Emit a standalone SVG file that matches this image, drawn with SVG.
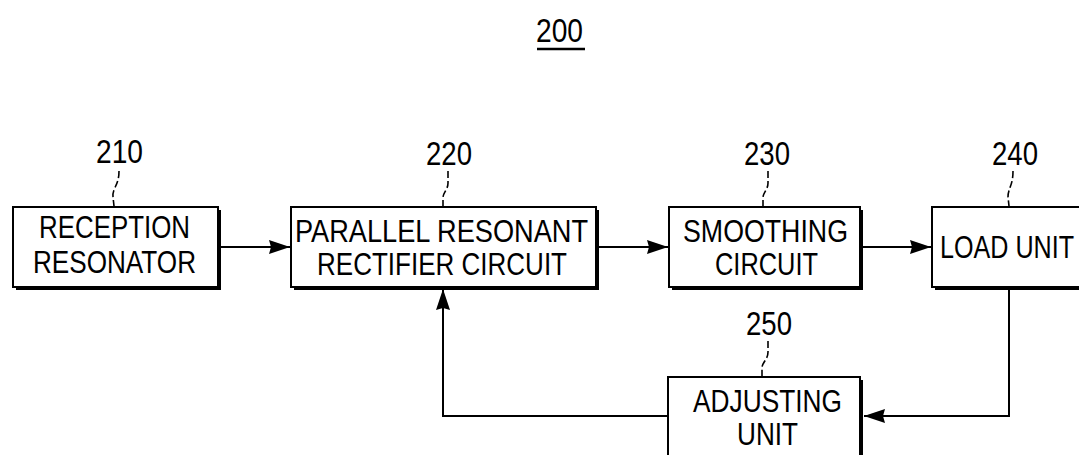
<svg xmlns="http://www.w3.org/2000/svg" width="1079" height="455" viewBox="0 0 1079 455">
<style>
  .box { fill: #fff; stroke: #000; stroke-width: 2; }
  .shadow { fill: #000; }
  .t { font-family: "Liberation Sans", Arial, sans-serif; font-size: 32px; fill: #000; }
  .num { font-family: "Liberation Sans", Arial, sans-serif; font-size: 34px; fill: #000; }
  .leader { fill: none; stroke: #000; stroke-width: 1.6; stroke-dasharray: 7 3; }
  .conn { fill: none; stroke: #000; stroke-width: 2; }
</style>
<defs>
  <marker id="arr" markerUnits="userSpaceOnUse" markerWidth="24" markerHeight="16" refX="21" refY="8" orient="auto">
    <path d="M0,1 L21,8 L0,15 L2,8 z" fill="#000"/>
  </marker>
</defs>
<rect width="1079" height="455" fill="#fff"/>

<g id="title">
  <text class="num" x="559.5" y="42" text-anchor="middle" textLength="47" lengthAdjust="spacingAndGlyphs">200</text>
  <line x1="537" y1="49" x2="585" y2="49" stroke="#000" stroke-width="2.5"/>
</g>

<g id="n210">
  <rect class="shadow" x="16" y="210" width="205" height="80"/>
  <rect class="box" x="13" y="207" width="205" height="80"/>
  <text class="t" x="114.5" y="238" text-anchor="middle" textLength="151" lengthAdjust="spacingAndGlyphs">RECEPTION</text>
  <text class="t" x="114.5" y="273" text-anchor="middle" textLength="163" lengthAdjust="spacingAndGlyphs">RESONATOR</text>
  <text class="num" x="119.5" y="163" text-anchor="middle" textLength="47" lengthAdjust="spacingAndGlyphs">210</text>
  <path class="leader" d="M119,171 C119,186 112,188 113,197 L114,206"/>
</g>

<g id="n220">
  <rect class="shadow" x="294" y="210" width="305" height="80"/>
  <rect class="box" x="291" y="207" width="305" height="80"/>
  <text class="t" x="441.5" y="242" text-anchor="middle" textLength="293" lengthAdjust="spacingAndGlyphs">PARALLEL RESONANT</text>
  <text class="t" x="442" y="275" text-anchor="middle" textLength="250" lengthAdjust="spacingAndGlyphs">RECTIFIER CIRCUIT</text>
  <text class="num" x="449" y="165" text-anchor="middle" textLength="46" lengthAdjust="spacingAndGlyphs">220</text>
  <path class="leader" d="M448,171 L448,183 C448,190 443,192 443,198 L443,206"/>
</g>

<g id="n230">
  <rect class="shadow" x="672" y="210" width="191" height="80"/>
  <rect class="box" x="669" y="207" width="191" height="80"/>
  <text class="t" x="765.5" y="242" text-anchor="middle" textLength="165" lengthAdjust="spacingAndGlyphs">SMOOTHING</text>
  <text class="t" x="766.5" y="275" text-anchor="middle" textLength="103" lengthAdjust="spacingAndGlyphs">CIRCUIT</text>
  <text class="num" x="767" y="165" text-anchor="middle" textLength="46" lengthAdjust="spacingAndGlyphs">230</text>
  <path class="leader" d="M768,171 L768,183 C768,190 763,192 763,198 L763,206"/>
</g>

<g id="n240">
  <rect class="shadow" x="935" y="210" width="170" height="80"/>
  <rect class="box" x="932" y="207" width="170" height="80"/>
  <text class="t" x="940" y="258" textLength="134" lengthAdjust="spacingAndGlyphs">LOAD UNIT</text>
  <text class="num" x="1015" y="165" text-anchor="middle" textLength="46" lengthAdjust="spacingAndGlyphs">240</text>
  <path class="leader" d="M1013,171 C1013,186 1008,188 1008,197 L1009,206"/>
</g>

<g id="n250">
  <rect class="shadow" x="671" y="380" width="192" height="95"/>
  <rect class="box" x="668" y="377" width="192" height="95"/>
  <text class="t" x="767.5" y="412" text-anchor="middle" textLength="149" lengthAdjust="spacingAndGlyphs">ADJUSTING</text>
  <text class="t" x="767.5" y="445" text-anchor="middle" textLength="61" lengthAdjust="spacingAndGlyphs">UNIT</text>
  <text class="num" x="769" y="335" text-anchor="middle" textLength="46" lengthAdjust="spacingAndGlyphs">250</text>
  <path class="leader" d="M768,341 L768,352 C768,360 762,362 762,368 L762,376"/>
</g>

<g id="connectors">
  <path class="conn" d="M221,247 H290" marker-end="url(#arr)"/>
  <path class="conn" d="M599,247 H668" marker-end="url(#arr)"/>
  <path class="conn" d="M863,247 H931" marker-end="url(#arr)"/>
  <path class="conn" d="M1009,290 V416 H864" marker-end="url(#arr)"/>
  <path class="conn" d="M668,416 H443 V289" marker-end="url(#arr)"/>
</g>
</svg>
